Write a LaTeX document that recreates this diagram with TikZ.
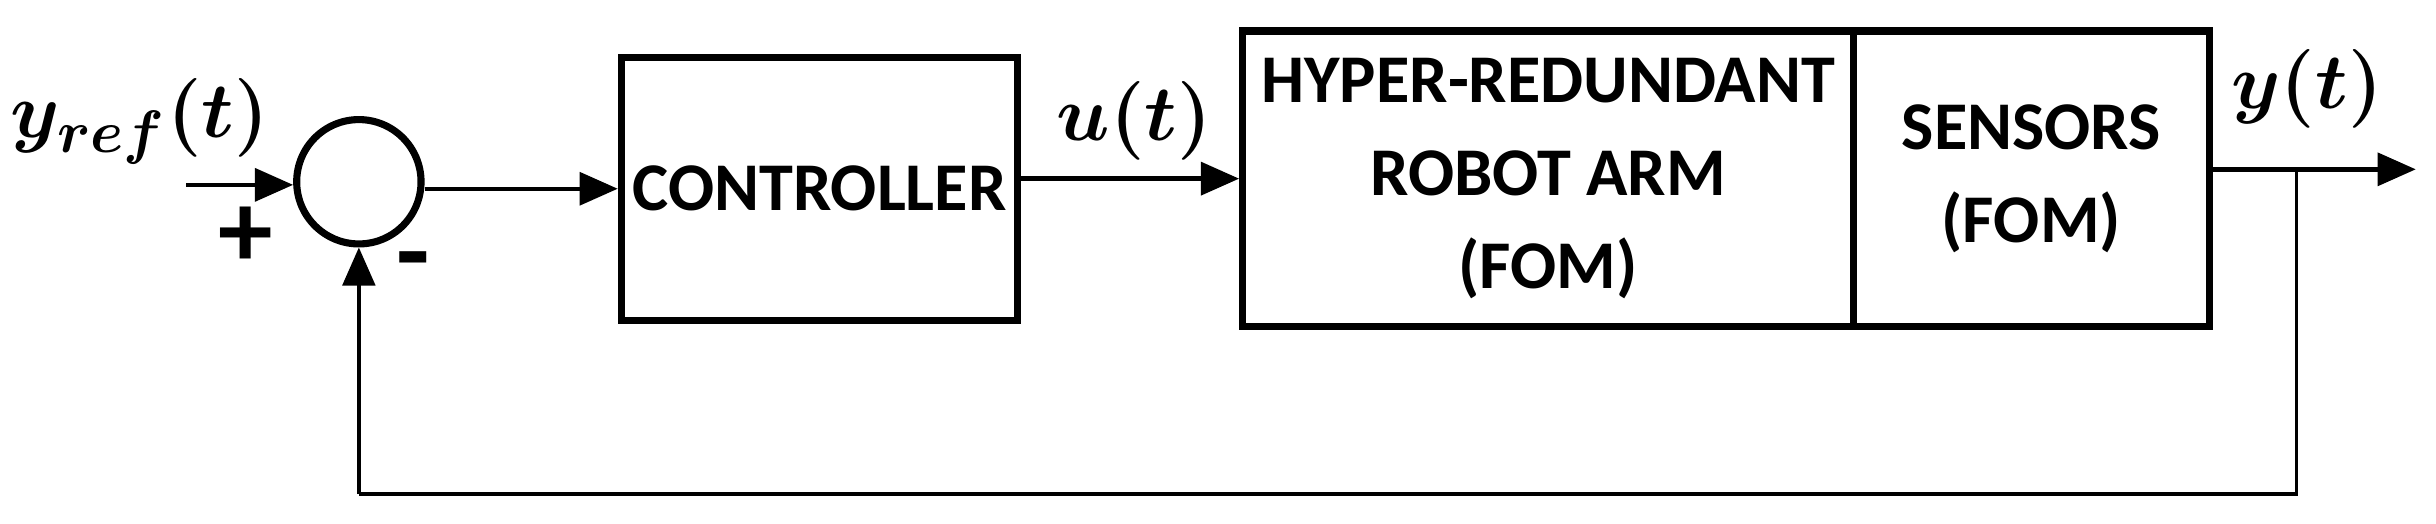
\documentclass[tikz,border=0pt]{standalone}
\usepackage{fontspec}
\usepackage{amsmath,bm}
\setsansfont{Carlito}
\usetikzlibrary{arrows.meta}
\begin{document}
\begin{tikzpicture}[x=0.01cm,y=-0.01cm,
  blk/.style={draw,line width=1.3pt,inner sep=0pt,font=\sffamily\bfseries\fontsize{12.5}{17}\selectfont,align=center},
  arr/.style={-{Triangle[length=7pt,width=6pt]},line width=0.8pt},
  lab/.style={font=\fontsize{15}{15}\selectfont}]
\useasboundingbox (0,0) rectangle (1568,337);
\node[draw,circle,line width=1.3pt,minimum size=0.8cm,inner sep=0pt] (s) at (231,117) {};
\node[blk,minimum width=2.55cm,minimum height=1.69cm] (c) at (527.5,121.5) {CONTROLLER};
\node[blk,minimum width=3.93cm,minimum height=1.9cm] (p) at (996.5,115) {HYPER-REDUNDANT\\ROBOT ARM\\(FOM)};
\node[blk,minimum width=2.29cm,minimum height=1.9cm] (se) at (1307.5,115) {SENSORS\\(FOM)};
\coordinate (in) at (120,119);
\coordinate (out) at (1555,109);
\coordinate (fb) at (1478,109);
\coordinate (fb1) at (1478,318);
\coordinate (fb2) at (231,318);
\draw[arr] (in) -- (s.west|-in);
\draw[arr] (s.east|-c) -- (c.west);
\draw[arr] (c.east|-0,115) -- (p.west|-0,115);
\draw[arr] (se.east|-out) -- (out);
\draw[line width=0.6pt] (fb) -- (fb1) -- (fb2);
\draw[arr,line width=0.6pt] (fb2) -- (s.south);
\node[lab] (yr) at (90,78) {$\bm{y_{ref}(t)}$};
\node[lab] (u) at (730,78) {$\bm{u(t)}$};
\node[lab] (y) at (1485,57) {$\bm{y(t)}$};
\node[font=\sffamily\bfseries\fontsize{20}{20}\selectfont] (pl) at (158,153) {+};
\node[font=\sffamily\bfseries\fontsize{20}{20}\selectfont] (mi) at (266,174) {-};
\end{tikzpicture}
\end{document}
